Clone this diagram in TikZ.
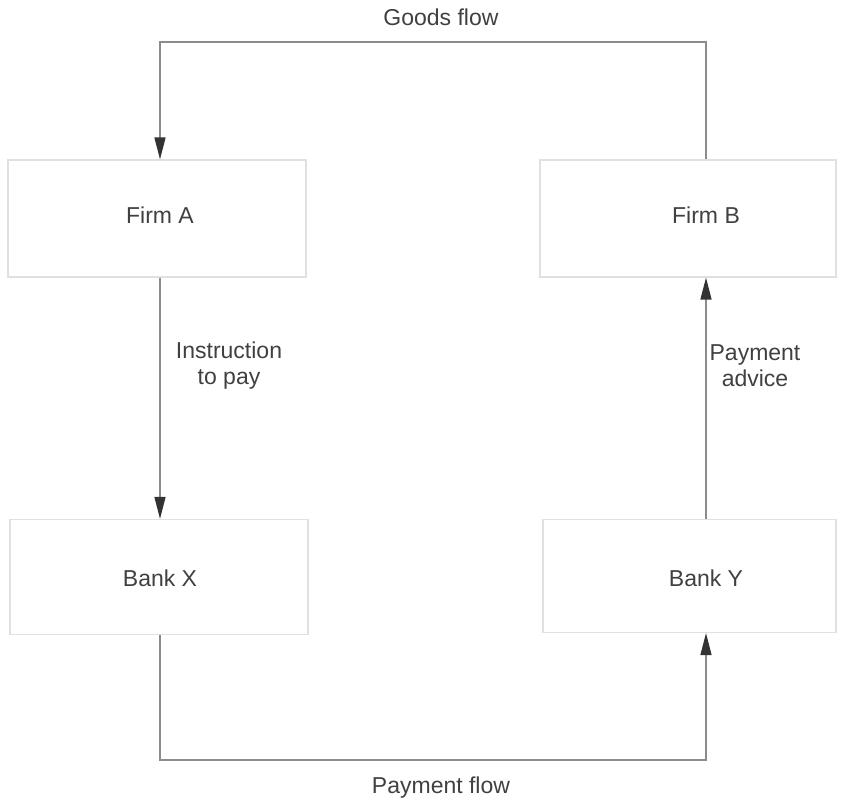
\documentclass[tikz,border=0pt]{standalone}
\usepackage{fontspec}
\setmainfont{Liberation Sans}
\usetikzlibrary{arrows.meta,positioning,calc}

\begin{document}
\begin{tikzpicture}[x=1pt,y=-1pt,
  >={Triangle[length=22pt,width=11pt,color=black!80]},
  font=\fontsize{23}{26}\selectfont,
  box/.style={rectangle,draw=black!12,line width=1.2pt,inner sep=0pt},
  lbl/.style={inner sep=1pt,text=black!75,align=center},
  flow/.style={->,line width=1.5pt,draw=black!45},
]
  \useasboundingbox (0,0) rectangle (841,802);

  % firms (top row)
  \node[box,minimum width=298pt,minimum height=117pt] (boxA) at (157,218.5) {};
  \node[box,minimum width=296pt,minimum height=117pt] (boxB) at (688,218.5) {};
  \node[lbl] (firmA) at (160,215) {Firm A};
  \node[lbl] (firmB) at (706,215) {Firm B};
  % banks (bottom row)
  \node[box,minimum width=298pt,minimum height=115pt] (boxX) at (159,577) {};
  \node[box,minimum width=293pt,minimum height=113pt] (boxY) at (689.5,576) {};
  \node[lbl] (bankX) at (160,578) {Bank X};
  \node[lbl] (bankY) at (706,578) {Bank Y};

  % turning points of the outer flows
  \coordinate (gtop) at (441,42);
  \coordinate (pbot) at (441,760);

  % flows
  \draw[flow] (firmB |- boxB.north) |- (gtop) -| (firmA |- boxA.north);
  \draw[flow] (bankX |- boxX.south) |- (pbot) -| (bankY |- boxY.south);
  \draw[flow] (firmA |- boxA.south) -- (firmA |- boxX.north);
  \draw[flow] (bankY |- boxY.north) -- (firmB |- boxB.south);

  % labels
  \node[lbl] (goods) at (441,17) {Goods flow};
  \node[lbl] (payflow) at (441,788) {Payment flow};
  \node[lbl] (instr) at (229,366) {Instruction\\to pay};
  \node[lbl] (advice) at (755,366) {Payment\\advice};
\end{tikzpicture}
\end{document}
